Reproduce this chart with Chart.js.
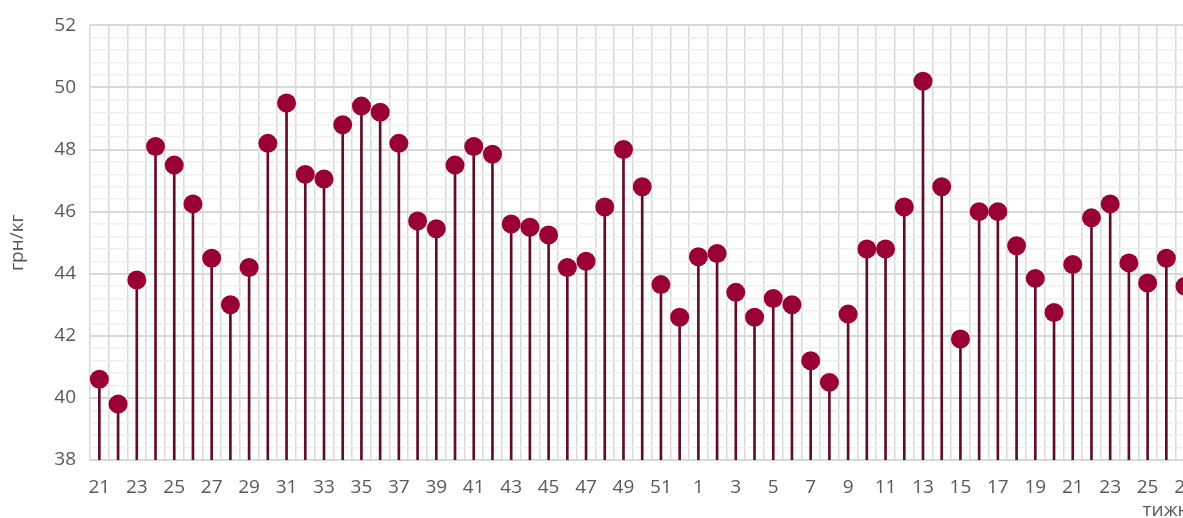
<!DOCTYPE html>
<html>
<head>
<meta charset="utf-8">
<script src="https://cdn.jsdelivr.net/npm/chart.js@4"></script>
<style>
    html, body { margin: 0; padding: 0; background: #fff; overflow: hidden; }
    #wrap { width: 1212px; height: 530px; }
</style>
</head>
<body>
<div id="wrap"><canvas id="grafico" width="1212" height="530"></canvas></div>
<script>
    // тижні: 21..52, потім 1..27
    const tyzhni = [
        21, 22, 23, 24, 25, 26, 27, 28, 29, 30, 31, 32, 33, 34, 35, 36,
        37, 38, 39, 40, 41, 42, 43, 44, 45, 46, 47, 48, 49, 50, 51, 52,
        1, 2, 3, 4, 5, 6, 7, 8, 9, 10, 11, 12, 13, 14, 15, 16, 17, 18, 19,
        20, 21, 22, 23, 24, 25, 26, 27
    ];

    // ціна, грн/кг
    const tsina = [
        40.6, 39.8, 43.8, 48.1, 47.5, 46.25, 44.5, 43.0, 44.2, 48.2, 49.5, 47.2, 47.05, 48.8, 49.4, 49.2,
        48.2, 45.7, 45.45, 47.5, 48.1, 47.85, 45.6, 45.5, 45.25, 44.2, 44.4, 46.15, 48.0, 46.8, 43.65, 42.6,
        44.55, 44.65, 43.4, 42.6, 43.2, 43.0, 41.2, 40.5, 42.7, 44.8, 44.8, 46.15, 50.2, 46.8, 41.9, 46.0, 46.0, 44.9, 43.85,
        42.75, 44.3, 45.8, 46.25, 44.35, 43.7, 44.5, 43.6
    ];

    const yMin = 38, yMax = 52, yStep = 0.4;

    const isMajor = v => Math.abs(v - Math.round(v)) < 1e-6 && Math.round(v) % 2 === 0;

    const fonte = { family: "'Open Sans', sans-serif", size: 19 };
    const cinza = "#595959";

    new Chart(document.getElementById("grafico"), {
        type: "bar",
        data: {
            labels: tyzhni.map(String),
            datasets: [
                {
                    type: "line",
                    data: tsina,
                    showLine: false,
                    pointRadius: 9.5,
                    pointHoverRadius: 9.5,
                    pointBackgroundColor: "#990033",
                    pointBorderColor: "#990033",
                    pointBorderWidth: 0,
                    order: 0
                },
                {
                    type: "bar",
                    data: tsina,
                    backgroundColor: "#5f0d28",
                    barThickness: 2,
                    order: 1
                }
            ]
        },
        options: {
            responsive: false,
            animation: false,
            layout: { padding: { top: 23, right: 0, left: 0, bottom: 0 } },
            plugins: {
                legend: { display: false },
                tooltip: { enabled: false }
            },
            scales: {
                x: {
                    offset: true,
                    grid: { offset: true, color: "#d9d9d9", lineWidth: 1.5, drawTicks: false },
                    border: { color: "#d9d9d9", width: 2 },
                    ticks: {
                        color: cinza,
                        font: fonte,
                        maxRotation: 0,
                        autoSkip: false,
                        padding: 16,
                        callback: function (v, i) { return i % 2 === 0 ? this.getLabelForValue(v) : ""; }
                    },
                    title: {
                        display: true,
                        text: "тижні",
                        align: "end",
                        color: cinza,
                        font: fonte,
                        padding: { top: 0, bottom: 8 }
                    },
                    afterFit: s => { s.height = 70; }
                },
                y: {
                    min: yMin,
                    max: yMax,
                    grid: {
                        drawTicks: false,
                        color: ctx => isMajor(ctx.tick.value) ? "#d9d9d9" : "#efefef",
                        lineWidth: ctx => isMajor(ctx.tick.value) ? 2 : 1.5
                    },
                    border: { display: false },
                    ticks: {
                        stepSize: yStep,
                        autoSkip: false,
                        color: cinza,
                        font: fonte,
                        padding: 14,
                        callback: v => isMajor(v) ? String(Math.round(v)) : ""
                    },
                    title: {
                        display: true,
                        text: "грн/кг",
                        color: cinza,
                        font: fonte,
                        padding: { top: 6, bottom: 4 }
                    },
                    afterFit: s => { s.width = 90; }
                }
            }
        }
    });
</script>
</body>
</html>
